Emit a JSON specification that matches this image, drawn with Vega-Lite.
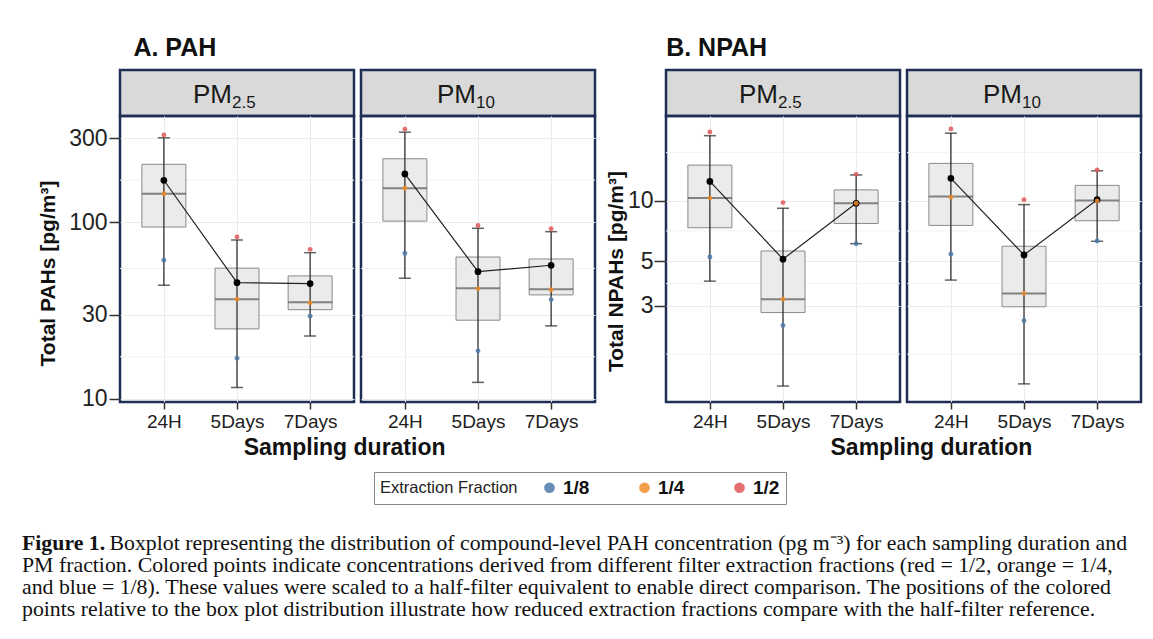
{
  "$schema": "https://vega.github.io/schema/vega-lite/v6.json",
  "padding": {"left": 22, "top": 35, "right": 5, "bottom": 5},
  "background": "white",
  "config": {
    "font": "Liberation Sans",
    "axis": {"labelFont": "Liberation Sans", "titleFont": "Liberation Sans"},
    "title": {"font": "Liberation Sans"}
  },
  "datasets": {
    "stats": [
      {"g": "A", "pm": "PM2.5", "d": "24H", "lo": 44, "q1": 94, "med": 145, "q3": 213, "hi": 301, "mean": 173},
      {"g": "A", "pm": "PM2.5", "d": "5Days", "lo": 11.6, "q1": 24.9, "med": 36.7, "q3": 55, "hi": 79.4, "mean": 45.5},
      {"g": "A", "pm": "PM2.5", "d": "7Days", "lo": 22.7, "q1": 32, "med": 35.2, "q3": 49.7, "hi": 67.3, "mean": 45},
      {"g": "A", "pm": "PM10", "d": "24H", "lo": 48.2, "q1": 101.6, "med": 156, "q3": 229, "hi": 324, "mean": 188},
      {"g": "A", "pm": "PM10", "d": "5Days", "lo": 12.4, "q1": 27.9, "med": 42.3, "q3": 63.6, "hi": 92.5, "mean": 52.5},
      {"g": "A", "pm": "PM10", "d": "7Days", "lo": 25.9, "q1": 38.8, "med": 41.8, "q3": 62, "hi": 88.5, "mean": 57.1},
      {"g": "B", "pm": "PM2.5", "d": "24H", "lo": 3.98, "q1": 7.33, "med": 10.3, "q3": 15.0, "hi": 21, "mean": 12.45},
      {"g": "B", "pm": "PM2.5", "d": "5Days", "lo": 1.2, "q1": 2.78, "med": 3.24, "q3": 5.62, "hi": 9.16, "mean": 5.12},
      {"g": "B", "pm": "PM2.5", "d": "7Days", "lo": 6.11, "q1": 7.7, "med": 9.7, "q3": 11.3, "hi": 13.4, "mean": 9.7},
      {"g": "B", "pm": "PM10", "d": "24H", "lo": 4.03, "q1": 7.53, "med": 10.47, "q3": 15.3, "hi": 21.6, "mean": 12.9},
      {"g": "B", "pm": "PM10", "d": "5Days", "lo": 1.23, "q1": 2.97, "med": 3.46, "q3": 5.93, "hi": 9.55, "mean": 5.37},
      {"g": "B", "pm": "PM10", "d": "7Days", "lo": 6.28, "q1": 7.94, "med": 10, "q3": 11.9, "hi": 14.06, "mean": 10.1}
    ],
    "pts": [
      {"g": "A", "pm": "PM2.5", "d": "24H", "f": "1/2", "v": 312},
      {"g": "A", "pm": "PM2.5", "d": "24H", "f": "1/4", "v": 145},
      {"g": "A", "pm": "PM2.5", "d": "24H", "f": "1/8", "v": 61},
      {"g": "A", "pm": "PM2.5", "d": "5Days", "f": "1/2", "v": 82.6},
      {"g": "A", "pm": "PM2.5", "d": "5Days", "f": "1/4", "v": 36.7},
      {"g": "A", "pm": "PM2.5", "d": "5Days", "f": "1/8", "v": 17},
      {"g": "A", "pm": "PM2.5", "d": "7Days", "f": "1/2", "v": 70.3},
      {"g": "A", "pm": "PM2.5", "d": "7Days", "f": "1/4", "v": 35},
      {"g": "A", "pm": "PM2.5", "d": "7Days", "f": "1/8", "v": 29.4},
      {"g": "A", "pm": "PM10", "d": "24H", "f": "1/2", "v": 337},
      {"g": "A", "pm": "PM10", "d": "24H", "f": "1/4", "v": 156},
      {"g": "A", "pm": "PM10", "d": "24H", "f": "1/8", "v": 66.8},
      {"g": "A", "pm": "PM10", "d": "5Days", "f": "1/2", "v": 96},
      {"g": "A", "pm": "PM10", "d": "5Days", "f": "1/4", "v": 42},
      {"g": "A", "pm": "PM10", "d": "5Days", "f": "1/8", "v": 18.7},
      {"g": "A", "pm": "PM10", "d": "7Days", "f": "1/2", "v": 92},
      {"g": "A", "pm": "PM10", "d": "7Days", "f": "1/4", "v": 41.5},
      {"g": "A", "pm": "PM10", "d": "7Days", "f": "1/8", "v": 36.5},
      {"g": "B", "pm": "PM2.5", "d": "24H", "f": "1/2", "v": 21.9},
      {"g": "B", "pm": "PM2.5", "d": "24H", "f": "1/4", "v": 10.3},
      {"g": "B", "pm": "PM2.5", "d": "24H", "f": "1/8", "v": 5.25},
      {"g": "B", "pm": "PM2.5", "d": "5Days", "f": "1/2", "v": 9.77},
      {"g": "B", "pm": "PM2.5", "d": "5Days", "f": "1/4", "v": 3.24},
      {"g": "B", "pm": "PM2.5", "d": "5Days", "f": "1/8", "v": 2.4},
      {"g": "B", "pm": "PM2.5", "d": "7Days", "f": "1/2", "v": 13.5},
      {"g": "B", "pm": "PM2.5", "d": "7Days", "f": "1/4", "v": 9.7},
      {"g": "B", "pm": "PM2.5", "d": "7Days", "f": "1/8", "v": 6.1},
      {"g": "B", "pm": "PM10", "d": "24H", "f": "1/2", "v": 22.7},
      {"g": "B", "pm": "PM10", "d": "24H", "f": "1/4", "v": 10.4},
      {"g": "B", "pm": "PM10", "d": "24H", "f": "1/8", "v": 5.43},
      {"g": "B", "pm": "PM10", "d": "5Days", "f": "1/2", "v": 10.1},
      {"g": "B", "pm": "PM10", "d": "5Days", "f": "1/4", "v": 3.46},
      {"g": "B", "pm": "PM10", "d": "5Days", "f": "1/8", "v": 2.53},
      {"g": "B", "pm": "PM10", "d": "7Days", "f": "1/2", "v": 14.2},
      {"g": "B", "pm": "PM10", "d": "7Days", "f": "1/4", "v": 9.95},
      {"g": "B", "pm": "PM10", "d": "7Days", "f": "1/8", "v": 6.3}
    ],
    "minorA": [{"v": 17.32}, {"v": 54.77}, {"v": 173.2}],
    "minorB": [{"v": 1.73}, {"v": 3.87}, {"v": 7.07}, {"v": 17.3}]
  },
  "vconcat": [
    {
      "hconcat": [
        {
          "title": {"text": "A. PAH", "anchor": "start", "fontSize": 25, "fontWeight": "bold", "color": "#111", "dx": 97, "offset": 8},
          "vconcat": [
            {
              "title": {"text": "Sampling duration", "orient": "bottom", "anchor": "middle", "fontSize": 23, "fontWeight": "bold", "color": "#111", "dx": 28, "offset": 5},
              "hconcat": [
                {
                  "vconcat": [
                    {
                      "width": 234, "height": 46,
                      "view": {"fill": "#d9d9d9", "stroke": "#1f2e54", "strokeWidth": 2.5},
                      "data": {"values": [{"a": "PM", "b": "2.5"}]},
                      "layer": [
                        {"mark": {"type": "text", "fontSize": 26, "align": "right", "baseline": "alphabetic", "dx": -5, "dy": 10, "color": "#1a1a1a"}, "encoding": {"text": {"field": "a"}}},
                        {"mark": {"type": "text", "fontSize": 17, "align": "left", "baseline": "alphabetic", "dx": -5, "dy": 15, "color": "#1a1a1a"}, "encoding": {"text": {"field": "b"}}}
                      ]
                    },
                    {
                      "width": 234, "height": 286,
                      "view": {"stroke": "#1f2e54", "strokeWidth": 2.5},
                      "layer": [
                        {"data": {"name": "minorA"}, "mark": {"type": "rule", "color": "#f2f2f2", "strokeWidth": 1},
                         "encoding": {"y": {"field": "v", "type": "quantitative", "scale": {"type": "log", "domain": [9.6, 400], "nice": false},
                           "axis": {"values": [10, 30, 100, 300], "format": "d", "grid": true, "gridColor": "#ebebeb", "domain": false, "tickSize": 11, "tickColor": "#333", "tickWidth": 1.5, "labelFontSize": 23, "labelColor": "#222", "labelPadding": 2, "title": "Total PAHs [pg/m³]", "titleFontSize": 21, "titleFontWeight": "bold", "titleColor": "#111", "titlePadding": 10, "titleY": 157}}}},
                        {"data": {"name": "stats"}, "transform": [{"filter": "datum.g === 'A' && datum.pm === 'PM2.5'"}],
                         "layer": [
                           {"mark": {"type": "bar", "size": 44, "fill": "#ebebeb", "stroke": "#8a8a8a", "strokeWidth": 1},
                            "encoding": {"x": {"field": "d", "type": "nominal", "scale": {"type": "point", "padding": 0.6, "domain": ["24H", "5Days", "7Days"]},
                              "axis": {"title": null, "labelAngle": 0, "grid": true, "gridColor": "#ebebeb", "domain": false, "tickSize": 7, "tickColor": "#333", "tickWidth": 1.5, "labelFontSize": 19, "labelColor": "#222", "labelPadding": 3}},
                              "y": {"field": "q3", "type": "quantitative"}, "y2": {"field": "q1"}}},
                           {"mark": {"type": "tick", "size": 44, "thickness": 2, "color": "#555"}, "encoding": {"x": {"field": "d", "type": "nominal"}, "y": {"field": "med", "type": "quantitative"}}},
                           {"mark": {"type": "rule", "color": "#222", "strokeWidth": 1.2}, "encoding": {"x": {"field": "d", "type": "nominal"}, "y": {"field": "lo", "type": "quantitative"}, "y2": {"field": "hi"}}},
                           {"mark": {"type": "tick", "size": 12, "thickness": 1.5, "color": "#222"}, "encoding": {"x": {"field": "d", "type": "nominal"}, "y": {"field": "lo", "type": "quantitative"}}},
                           {"mark": {"type": "tick", "size": 12, "thickness": 1.5, "color": "#222"}, "encoding": {"x": {"field": "d", "type": "nominal"}, "y": {"field": "hi", "type": "quantitative"}}},
                           {"mark": {"type": "line", "color": "#222", "strokeWidth": 1.2}, "encoding": {"x": {"field": "d", "type": "nominal"}, "y": {"field": "mean", "type": "quantitative"}}},
                           {"mark": {"type": "circle", "size": 45, "color": "#000", "opacity": 1}, "encoding": {"x": {"field": "d", "type": "nominal"}, "y": {"field": "mean", "type": "quantitative"}}}
                         ]},
                        {"data": {"name": "pts"}, "transform": [{"filter": "datum.g === 'A' && datum.pm === 'PM2.5'"}],
                         "mark": {"type": "circle", "size": 24, "opacity": 0.85},
                         "encoding": {"x": {"field": "d", "type": "nominal"}, "y": {"field": "v", "type": "quantitative"},
                           "color": {"field": "f", "type": "nominal", "scale": {"domain": ["1/8", "1/4", "1/2"], "range": ["#4E79A7", "#F28E2B", "#E15759"]},
                             "legend": {"orient": "none", "legendX": 254, "legendY": 402, "direction": "horizontal", "title": "Extraction Fraction", "titleOrient": "left", "titleFontSize": 16.5, "titleFontWeight": "normal", "titleColor": "#222", "titlePadding": 22, "labelFontSize": 19, "labelFontWeight": "bold", "labelColor": "#111", "labelOffset": 4, "symbolSize": 115, "symbolType": "circle", "symbolOpacity": 0.85, "columnPadding": 45, "strokeColor": "#888", "padding": 6}}}}
                      ]
                    }
                  ],
                  "spacing": 0, "bounds": "flush"
                },
                {
                  "vconcat": [
                    {
                      "width": 234, "height": 46,
                      "view": {"fill": "#d9d9d9", "stroke": "#1f2e54", "strokeWidth": 2.5},
                      "data": {"values": [{"a": "PM", "b": "10"}]},
                      "layer": [
                        {"mark": {"type": "text", "fontSize": 26, "align": "right", "baseline": "alphabetic", "dx": -2, "dy": 10, "color": "#1a1a1a"}, "encoding": {"text": {"field": "a"}}},
                        {"mark": {"type": "text", "fontSize": 17, "align": "left", "baseline": "alphabetic", "dx": -2, "dy": 15, "color": "#1a1a1a"}, "encoding": {"text": {"field": "b"}}}
                      ]
                    },
                    {
                      "width": 234, "height": 286,
                      "view": {"stroke": "#1f2e54", "strokeWidth": 2.5},
                      "layer": [
                        {"data": {"name": "minorA"}, "mark": {"type": "rule", "color": "#f2f2f2", "strokeWidth": 1},
                         "encoding": {"y": {"field": "v", "type": "quantitative", "scale": {"type": "log", "domain": [9.6, 400], "nice": false},
                           "axis": {"values": [10, 30, 100, 300], "grid": true, "gridColor": "#ebebeb", "labels": false, "ticks": false, "domain": false, "title": null}}}},
                        {"data": {"name": "stats"}, "transform": [{"filter": "datum.g === 'A' && datum.pm === 'PM10'"}],
                         "layer": [
                           {"mark": {"type": "bar", "size": 44, "fill": "#ebebeb", "stroke": "#8a8a8a", "strokeWidth": 1},
                            "encoding": {"x": {"field": "d", "type": "nominal", "scale": {"type": "point", "padding": 0.6, "domain": ["24H", "5Days", "7Days"]},
                              "axis": {"title": null, "labelAngle": 0, "grid": true, "gridColor": "#ebebeb", "domain": false, "tickSize": 7, "tickColor": "#333", "tickWidth": 1.5, "labelFontSize": 19, "labelColor": "#222", "labelPadding": 3}},
                              "y": {"field": "q3", "type": "quantitative"}, "y2": {"field": "q1"}}},
                           {"mark": {"type": "tick", "size": 44, "thickness": 2, "color": "#555"}, "encoding": {"x": {"field": "d", "type": "nominal"}, "y": {"field": "med", "type": "quantitative"}}},
                           {"mark": {"type": "rule", "color": "#222", "strokeWidth": 1.2}, "encoding": {"x": {"field": "d", "type": "nominal"}, "y": {"field": "lo", "type": "quantitative"}, "y2": {"field": "hi"}}},
                           {"mark": {"type": "tick", "size": 12, "thickness": 1.5, "color": "#222"}, "encoding": {"x": {"field": "d", "type": "nominal"}, "y": {"field": "lo", "type": "quantitative"}}},
                           {"mark": {"type": "tick", "size": 12, "thickness": 1.5, "color": "#222"}, "encoding": {"x": {"field": "d", "type": "nominal"}, "y": {"field": "hi", "type": "quantitative"}}},
                           {"mark": {"type": "line", "color": "#222", "strokeWidth": 1.2}, "encoding": {"x": {"field": "d", "type": "nominal"}, "y": {"field": "mean", "type": "quantitative"}}},
                           {"mark": {"type": "circle", "size": 45, "color": "#000", "opacity": 1}, "encoding": {"x": {"field": "d", "type": "nominal"}, "y": {"field": "mean", "type": "quantitative"}}}
                         ]},
                        {"data": {"name": "pts"}, "transform": [{"filter": "datum.g === 'A' && datum.pm === 'PM10'"}],
                         "mark": {"type": "circle", "size": 24, "opacity": 0.85},
                         "encoding": {"x": {"field": "d", "type": "nominal"}, "y": {"field": "v", "type": "quantitative"},
                           "color": {"field": "f", "type": "nominal", "scale": {"domain": ["1/8", "1/4", "1/2"], "range": ["#4E79A7", "#F28E2B", "#E15759"]},
                             "legend": {"orient": "none", "legendX": 254, "legendY": 402, "direction": "horizontal", "title": "Extraction Fraction", "titleOrient": "left", "titleFontSize": 16.5, "titleFontWeight": "normal", "titleColor": "#222", "titlePadding": 22, "labelFontSize": 19, "labelFontWeight": "bold", "labelColor": "#111", "labelOffset": 4, "symbolSize": 115, "symbolType": "circle", "symbolOpacity": 0.85, "columnPadding": 45, "strokeColor": "#888", "padding": 6}}}}
                      ]
                    }
                  ],
                  "spacing": 0, "bounds": "flush"
                }
              ],
              "spacing": 3
            }
          ]
        },
        {
          "title": {"text": "B. NPAH", "anchor": "start", "fontSize": 25, "fontWeight": "bold", "color": "#111", "dx": 62, "offset": 8},
          "vconcat": [
            {
              "title": {"text": "Sampling duration", "orient": "bottom", "anchor": "middle", "fontSize": 23, "fontWeight": "bold", "color": "#111", "dx": 58, "offset": 5},
              "hconcat": [
                {
                  "vconcat": [
                    {
                      "width": 234, "height": 46,
                      "view": {"fill": "#d9d9d9", "stroke": "#1f2e54", "strokeWidth": 2.5},
                      "data": {"values": [{"a": "PM", "b": "2.5"}]},
                      "layer": [
                        {"mark": {"type": "text", "fontSize": 26, "align": "right", "baseline": "alphabetic", "dx": -5, "dy": 10, "color": "#1a1a1a"}, "encoding": {"text": {"field": "a"}}},
                        {"mark": {"type": "text", "fontSize": 17, "align": "left", "baseline": "alphabetic", "dx": -5, "dy": 15, "color": "#1a1a1a"}, "encoding": {"text": {"field": "b"}}}
                      ]
                    },
                    {
                      "width": 234, "height": 286,
                      "view": {"stroke": "#1f2e54", "strokeWidth": 2.5},
                      "layer": [
                        {"data": {"name": "minorB"}, "mark": {"type": "rule", "color": "#f2f2f2", "strokeWidth": 1},
                         "encoding": {"y": {"field": "v", "type": "quantitative", "scale": {"type": "log", "domain": [1.0, 26.3], "nice": false},
                           "axis": {"values": [3, 5, 10], "format": "d", "grid": true, "gridColor": "#ebebeb", "domain": false, "tickSize": 12, "tickColor": "#333", "tickWidth": 1.5, "labelFontSize": 23, "labelColor": "#222", "labelPadding": 1, "title": "Total NPAHs [pg/m³]", "titleFontSize": 21, "titleFontWeight": "bold", "titleColor": "#111", "titlePadding": 1, "titleY": 155}}}},
                        {"data": {"name": "stats"}, "transform": [{"filter": "datum.g === 'B' && datum.pm === 'PM2.5'"}],
                         "layer": [
                           {"mark": {"type": "bar", "size": 44, "fill": "#ebebeb", "stroke": "#8a8a8a", "strokeWidth": 1},
                            "encoding": {"x": {"field": "d", "type": "nominal", "scale": {"type": "point", "padding": 0.6, "domain": ["24H", "5Days", "7Days"]},
                              "axis": {"title": null, "labelAngle": 0, "grid": true, "gridColor": "#ebebeb", "domain": false, "tickSize": 7, "tickColor": "#333", "tickWidth": 1.5, "labelFontSize": 19, "labelColor": "#222", "labelPadding": 3}},
                              "y": {"field": "q3", "type": "quantitative"}, "y2": {"field": "q1"}}},
                           {"mark": {"type": "tick", "size": 44, "thickness": 2, "color": "#555"}, "encoding": {"x": {"field": "d", "type": "nominal"}, "y": {"field": "med", "type": "quantitative"}}},
                           {"mark": {"type": "rule", "color": "#222", "strokeWidth": 1.2}, "encoding": {"x": {"field": "d", "type": "nominal"}, "y": {"field": "lo", "type": "quantitative"}, "y2": {"field": "hi"}}},
                           {"mark": {"type": "tick", "size": 12, "thickness": 1.5, "color": "#222"}, "encoding": {"x": {"field": "d", "type": "nominal"}, "y": {"field": "lo", "type": "quantitative"}}},
                           {"mark": {"type": "tick", "size": 12, "thickness": 1.5, "color": "#222"}, "encoding": {"x": {"field": "d", "type": "nominal"}, "y": {"field": "hi", "type": "quantitative"}}},
                           {"mark": {"type": "line", "color": "#222", "strokeWidth": 1.2}, "encoding": {"x": {"field": "d", "type": "nominal"}, "y": {"field": "mean", "type": "quantitative"}}},
                           {"mark": {"type": "circle", "size": 45, "color": "#000", "opacity": 1}, "encoding": {"x": {"field": "d", "type": "nominal"}, "y": {"field": "mean", "type": "quantitative"}}}
                         ]},
                        {"data": {"name": "pts"}, "transform": [{"filter": "datum.g === 'B' && datum.pm === 'PM2.5'"}],
                         "mark": {"type": "circle", "size": 24, "opacity": 0.85},
                         "encoding": {"x": {"field": "d", "type": "nominal"}, "y": {"field": "v", "type": "quantitative"},
                           "color": {"field": "f", "type": "nominal", "scale": {"domain": ["1/8", "1/4", "1/2"], "range": ["#4E79A7", "#F28E2B", "#E15759"]},
                             "legend": {"orient": "none", "legendX": 254, "legendY": 402, "direction": "horizontal", "title": "Extraction Fraction", "titleOrient": "left", "titleFontSize": 16.5, "titleFontWeight": "normal", "titleColor": "#222", "titlePadding": 22, "labelFontSize": 19, "labelFontWeight": "bold", "labelColor": "#111", "labelOffset": 4, "symbolSize": 115, "symbolType": "circle", "symbolOpacity": 0.85, "columnPadding": 45, "strokeColor": "#888", "padding": 6}}}}
                      ]
                    }
                  ],
                  "spacing": 0, "bounds": "flush"
                },
                {
                  "vconcat": [
                    {
                      "width": 234, "height": 46,
                      "view": {"fill": "#d9d9d9", "stroke": "#1f2e54", "strokeWidth": 2.5},
                      "data": {"values": [{"a": "PM", "b": "10"}]},
                      "layer": [
                        {"mark": {"type": "text", "fontSize": 26, "align": "right", "baseline": "alphabetic", "dx": -2, "dy": 10, "color": "#1a1a1a"}, "encoding": {"text": {"field": "a"}}},
                        {"mark": {"type": "text", "fontSize": 17, "align": "left", "baseline": "alphabetic", "dx": -2, "dy": 15, "color": "#1a1a1a"}, "encoding": {"text": {"field": "b"}}}
                      ]
                    },
                    {
                      "width": 234, "height": 286,
                      "view": {"stroke": "#1f2e54", "strokeWidth": 2.5},
                      "layer": [
                        {"data": {"name": "minorB"}, "mark": {"type": "rule", "color": "#f2f2f2", "strokeWidth": 1},
                         "encoding": {"y": {"field": "v", "type": "quantitative", "scale": {"type": "log", "domain": [1.0, 26.3], "nice": false},
                           "axis": {"values": [3, 5, 10], "grid": true, "gridColor": "#ebebeb", "labels": false, "ticks": false, "domain": false, "title": null}}}},
                        {"data": {"name": "stats"}, "transform": [{"filter": "datum.g === 'B' && datum.pm === 'PM10'"}],
                         "layer": [
                           {"mark": {"type": "bar", "size": 44, "fill": "#ebebeb", "stroke": "#8a8a8a", "strokeWidth": 1},
                            "encoding": {"x": {"field": "d", "type": "nominal", "scale": {"type": "point", "padding": 0.6, "domain": ["24H", "5Days", "7Days"]},
                              "axis": {"title": null, "labelAngle": 0, "grid": true, "gridColor": "#ebebeb", "domain": false, "tickSize": 7, "tickColor": "#333", "tickWidth": 1.5, "labelFontSize": 19, "labelColor": "#222", "labelPadding": 3}},
                              "y": {"field": "q3", "type": "quantitative"}, "y2": {"field": "q1"}}},
                           {"mark": {"type": "tick", "size": 44, "thickness": 2, "color": "#555"}, "encoding": {"x": {"field": "d", "type": "nominal"}, "y": {"field": "med", "type": "quantitative"}}},
                           {"mark": {"type": "rule", "color": "#222", "strokeWidth": 1.2}, "encoding": {"x": {"field": "d", "type": "nominal"}, "y": {"field": "lo", "type": "quantitative"}, "y2": {"field": "hi"}}},
                           {"mark": {"type": "tick", "size": 12, "thickness": 1.5, "color": "#222"}, "encoding": {"x": {"field": "d", "type": "nominal"}, "y": {"field": "lo", "type": "quantitative"}}},
                           {"mark": {"type": "tick", "size": 12, "thickness": 1.5, "color": "#222"}, "encoding": {"x": {"field": "d", "type": "nominal"}, "y": {"field": "hi", "type": "quantitative"}}},
                           {"mark": {"type": "line", "color": "#222", "strokeWidth": 1.2}, "encoding": {"x": {"field": "d", "type": "nominal"}, "y": {"field": "mean", "type": "quantitative"}}},
                           {"mark": {"type": "circle", "size": 45, "color": "#000", "opacity": 1}, "encoding": {"x": {"field": "d", "type": "nominal"}, "y": {"field": "mean", "type": "quantitative"}}}
                         ]},
                        {"data": {"name": "pts"}, "transform": [{"filter": "datum.g === 'B' && datum.pm === 'PM10'"}],
                         "mark": {"type": "circle", "size": 24, "opacity": 0.85},
                         "encoding": {"x": {"field": "d", "type": "nominal"}, "y": {"field": "v", "type": "quantitative"},
                           "color": {"field": "f", "type": "nominal", "scale": {"domain": ["1/8", "1/4", "1/2"], "range": ["#4E79A7", "#F28E2B", "#E15759"]},
                             "legend": {"orient": "none", "legendX": 254, "legendY": 402, "direction": "horizontal", "title": "Extraction Fraction", "titleOrient": "left", "titleFontSize": 16.5, "titleFontWeight": "normal", "titleColor": "#222", "titlePadding": 22, "labelFontSize": 19, "labelFontWeight": "bold", "labelColor": "#111", "labelOffset": 4, "symbolSize": 115, "symbolType": "circle", "symbolOpacity": 0.85, "columnPadding": 45, "strokeColor": "#888", "padding": 6}}}}
                      ]
                    }
                  ],
                  "spacing": 0, "bounds": "flush"
                }
              ],
              "spacing": 3
            }
          ]
        }
      ],
      "spacing": 7
    },
    {
      "width": 900, "height": 88,
      "view": {"stroke": null},
      "data": {"values": [
        {"line": 1, "t": "Boxplot representing the distribution of compound-level PAH concentration (pg m⁻³) for each sampling duration and"},
        {"line": 2, "t": "PM fraction. Colored points indicate concentrations derived from different filter extraction fractions (red = 1/2, orange = 1/4,"},
        {"line": 3, "t": "and blue = 1/8). These values were scaled to a half-filter equivalent to enable direct comparison. The positions of the colored"},
        {"line": 4, "t": "points relative to the box plot distribution illustrate how reduced extraction fractions compare with the half-filter reference."}
      ]},
      "encoding": {
        "x": {"datum": 0, "type": "quantitative", "scale": {"domain": [0, 1]}, "axis": null},
        "y": {"field": "line", "type": "ordinal", "axis": null, "scale": {"type": "point", "padding": 0.5}}
      },
      "layer": [
        {"transform": [{"filter": "datum.line === 1"}], "mark": {"type": "text", "align": "left", "baseline": "middle", "font": "Liberation Serif", "fontSize": 21.8, "fontWeight": "bold", "dx": -98, "color": "#111"}, "encoding": {"text": {"value": "Figure 1."}}},
        {"transform": [{"filter": "datum.line === 1"}], "mark": {"type": "text", "align": "left", "baseline": "middle", "font": "Liberation Serif", "fontSize": 21.8, "dx": -10.5, "color": "#111"}, "encoding": {"text": {"field": "t"}}},
        {"transform": [{"filter": "datum.line > 1"}], "mark": {"type": "text", "align": "left", "baseline": "middle", "font": "Liberation Serif", "fontSize": 21.8, "dx": -98, "color": "#111"}, "encoding": {"text": {"field": "t"}}}
      ]
    }
  ],
  "spacing": 71
}
